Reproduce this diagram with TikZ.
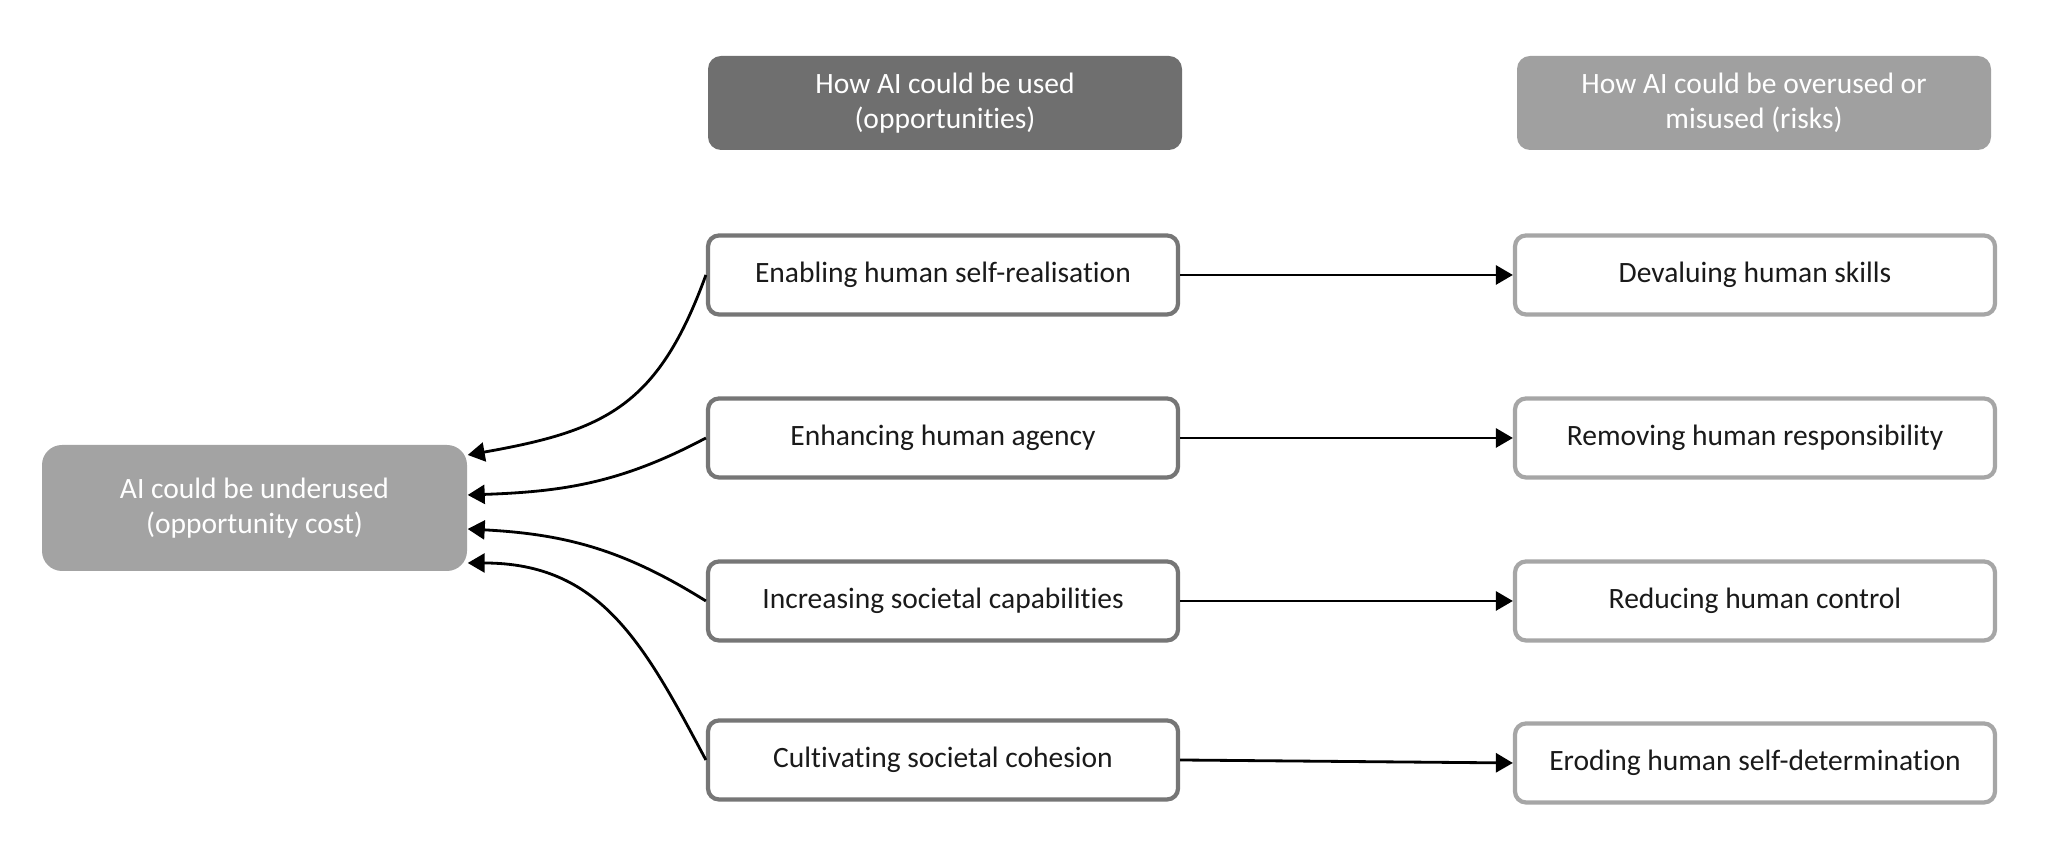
\documentclass[tikz,border=0pt]{standalone}
\usepackage{fontspec}
\setmainfont{Carlito}[Ligatures=NoCommon]
\usetikzlibrary{arrows.meta}
\definecolor{headdark}{HTML}{6F6F6F}
\definecolor{headlight}{HTML}{A0A0A0}
\definecolor{underfill}{HTML}{A3A3A3}
\definecolor{useedge}{HTML}{767676}
\definecolor{riskedge}{HTML}{A6A6A6}
\definecolor{boxtext}{HTML}{1A1A1A}

\begin{document}
\begin{tikzpicture}[
    head/.style={rounded corners=1.3mm,minimum width=47.4mm,minimum height=9.4mm,align=center,text=white,font=\fontsize{8.4}{10}\selectfont},
    usebox/.style={draw=useedge,line width=1.2pt,fill=white,rounded corners=1.1mm,minimum width=47mm,minimum height=7.9mm,text=boxtext,font=\fontsize{8.4}{10}\selectfont},
    riskbox/.style={usebox,draw=riskedge,minimum width=48mm},
    link/.style={line width=0.8pt,-{Triangle[length=1.7mm,width=1.9mm]}}]
    \useasboundingbox (0,0) rectangle (20.52,8.44);
    % column heads
    \node[head,fill=headdark] (usehead) at (9.45,7.41) {How AI could be used\\(opportunities)};
    \node[head,fill=headlight] (riskhead) at (17.54,7.41) {How AI could be overused or\\misused (risks)};
    \node[head,fill=underfill,minimum width=42.5mm,minimum height=12.6mm,rounded corners=2mm] (under) at (2.545,3.36) {AI could be underused\\(opportunity cost)};
    % opportunities
    \node[usebox] (use1) at (9.43,5.69) {Enabling human self-realisation};
    \node[usebox] (use2) at (9.43,4.06) {Enhancing human agency};
    \node[usebox] (use3) at (9.43,2.43) {Increasing societal capabilities};
    \node[usebox] (use4) at (9.43,0.84) {Cultivating societal cohesion};
    % risks
    \node[riskbox] (risk1) at (17.55,5.69) {Devaluing human skills};
    \node[riskbox] (risk2) at (17.55,4.06) {Removing human responsibility};
    \node[riskbox] (risk3) at (17.55,2.43) {Reducing human control};
    \node[riskbox] (risk4) at (17.55,0.81) {Eroding human self-determination};
    \draw[link] (use1) -- (risk1);
    \draw[link] (use2) -- (risk2);
    \draw[link] (use3) -- (risk3);
    \draw[link] (use4.east) -- (risk4.west);
    % underuse
    \draw[link] (use1.west) to[out=250,in=10,looseness=1.2] ([yshift=5.3mm]under.east);
    \draw[link] (use2.west) to[out=208,in=2] ([yshift=1.3mm]under.east);
    \draw[link] (use3.west) to[out=148,in=-3] ([yshift=-2.1mm]under.east);
    \draw[link] (use4.west) to[out=118,in=0,looseness=1.1] ([yshift=-5.5mm]under.east);
\end{tikzpicture}
\end{document}
